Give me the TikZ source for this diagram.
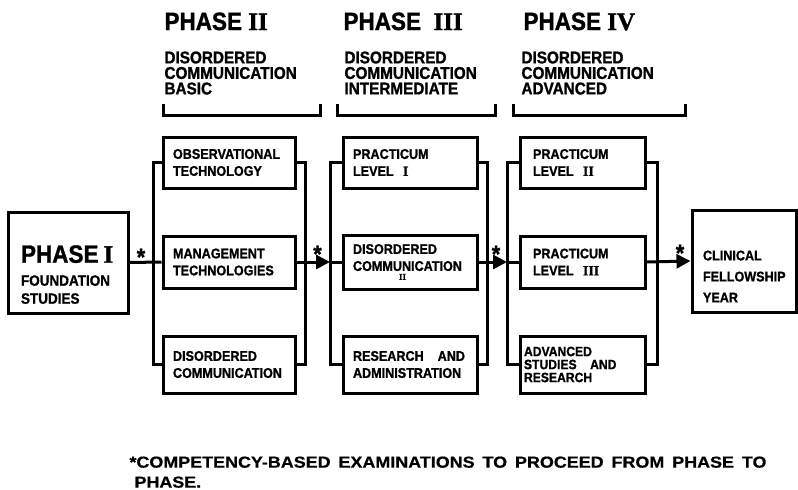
\documentclass[tikz,border=0pt]{standalone}
\usepackage{fontspec}
\setmainfont{Liberation Sans}[FakeStretch=0.9, BoldFeatures={FakeBold=1.2}]
\newfontfamily\notefont{Liberation Sans}[FakeStretch=1.12, BoldFeatures={FakeBold=0.6}]
\newfontfamily\numserif{Liberation Serif}[BoldFeatures={FakeBold=1.2}]
\usetikzlibrary{arrows.meta}
\newcommand\rn[1]{{\numserif\bfseries #1}}
\tikzset{
	blk/.style={draw, line width=3pt, align=left, inner xsep=11pt, inner ysep=0pt,
		font=\bfseries\fontsize{14}{17}\selectfont},
	hd/.style={anchor=base west, inner sep=0pt, font=\bfseries\fontsize{25}{25}\selectfont},
	sub/.style={anchor=north west, inner sep=0pt, align=left, font=\bfseries\fontsize{17}{15.5}\selectfont},
	star/.style={inner sep=0pt, font=\bfseries\fontsize{24}{24}\selectfont},
}
\begin{document}
\begin{tikzpicture}[x=1pt,y=-1pt,line width=3pt]
	\useasboundingbox (0,0) rectangle (798,490);
	% headings
	\node[hd] (h2) at (163,30) {PHASE \rn{II}};
	\node[hd] (h3) at (342,30) {PHASE\ \ \rn{III}};
	\node[hd] (h4) at (522,30) {PHASE \rn{IV}};
	\node[sub] (t2) at (163,50) {DISORDERED\\COMMUNICATION\\BASIC};
	\node[sub] (t3) at (343,50) {DISORDERED\\COMMUNICATION\\INTERMEDIATE};
	\node[sub] (t4) at (520,50) {DISORDERED\\COMMUNICATION\\ADVANCED};
	\foreach \a/\b in {163/320,337/495,513/685} \draw (\a,104) |- (\b,115) -- (\b,104);
	% end boxes
	\node[blk, minimum width=120pt, minimum height=101pt, text width=94pt, inner xsep=13pt, text depth=17pt, font=\bfseries\fontsize{15}{18}\selectfont]
		(ph1) at (68,262.5) {{\fontsize{25}{25}\selectfont PHASE \rn{I}}\\[5pt]FOUNDATION\\STUDIES};
	\node[blk, minimum width=104pt, minimum height=102pt, text width=82pt, text depth=11pt]
		(cfy) at (744,261) {CLINICAL\\[4pt]FELLOWSHIP\\[4pt]YEAR};
	% phase II
	\node[blk, minimum width=132pt, minimum height=51pt, text width=112pt, inner xsep=10pt] (ob) at (229,162.5) {OBSERVATIONAL\\TECHNOLOGY};
	\node[blk, minimum width=132pt, minimum height=52pt, text width=112pt, inner xsep=10pt] (mt) at (229,262) {MANAGEMENT\\TECHNOLOGIES};
	\node[blk, minimum width=132pt, minimum height=57pt, text width=112pt, inner xsep=10pt] (dc1) at (229,364.5) {DISORDERED\\COMMUNICATION};
	% phase III
	\node[blk, minimum width=134pt, minimum height=51pt, text width=114pt, inner xsep=10pt] (pl1) at (410,162.5) {PRACTICUM\\LEVEL\ \ \rn{I}};
	\node[blk, minimum width=134pt, minimum height=54pt, text width=114pt, inner xsep=10pt] (dc2) at (410,262)
		{DISORDERED\\COMMUNICATION\\[-8pt]\hspace*{46pt}{\fontsize{9}{9}\selectfont\rn{II}}};
	\node[blk, minimum width=134pt, minimum height=57pt, text width=114pt, inner xsep=10pt] (ra) at (410,364.5) {RESEARCH\quad AND\\ADMINISTRATION};
	% phase IV
	\node[blk, minimum width=125pt, minimum height=51pt, text width=99pt, inner xsep=13pt] (pl2) at (582.5,162.5) {PRACTICUM\\LEVEL\ \ \rn{II}};
	\node[blk, minimum width=125pt, minimum height=52pt, text width=99pt, inner xsep=13pt] (pl3) at (582.5,262) {PRACTICUM\\LEVEL\ \ \rn{III}};
	\node[blk, minimum width=125pt, minimum height=57pt, text width=117pt, inner xsep=4pt, font=\bfseries\fontsize{13.5}{13}\selectfont]
		(as) at (582.5,364.5) {ADVANCED\\STUDIES\quad AND\\RESEARCH};
	% buses
	\coordinate (b2l) at (153,262);
	\coordinate (b2r) at (305,262);
	\coordinate (b3l) at (330,262);
	\coordinate (b3r) at (487,262);
	\coordinate (b4l) at (507,262);
	\coordinate (b4r) at (657,262);
	\draw (ob.west) -| (b2l) |- (dc1.west);
	\draw (ob.east) -| (b2r) |- (dc1.east);
	\draw (pl1.west) -| (b3l) |- (ra.west);
	\draw (pl1.east) -| (b3r) |- (ra.east);
	\draw (pl2.west) -| (b4l) |- (as.west);
	\draw (pl2.east) -| (b4r) |- (as.east);
	\draw (ph1.east) -- (mt.west);
	\draw[-{Triangle[length=14pt,width=14pt]}] (mt.east) -- (b3l);
	\draw (b3l) -- (dc2.west);
	\draw[-{Triangle[length=14pt,width=14pt]}] (dc2.east) -- (b4l);
	\draw (b4l) -- (pl3.west);
	\draw[-{Triangle[length=14pt,width=14pt]}] (pl3.east) -- (cfy.west);
	% stars
	\node[star] (s1) at (141,257) {*};
	\node[star] (s2) at (317.5,254) {*};
	\node[star] (s3) at (496,254) {*};
	\node[star] (s4) at (680,253) {*};
	% note
	\node[anchor=north west, inner sep=0pt, align=left, font=\notefont\bfseries\fontsize{16}{20}\selectfont]
		(fn) at (128,455) {\makebox[637pt][s]{*COMPETENCY-BASED EXAMINATIONS TO PROCEED FROM PHASE TO}\\\hspace*{5pt}PHASE.};
\end{tikzpicture}
\end{document}
